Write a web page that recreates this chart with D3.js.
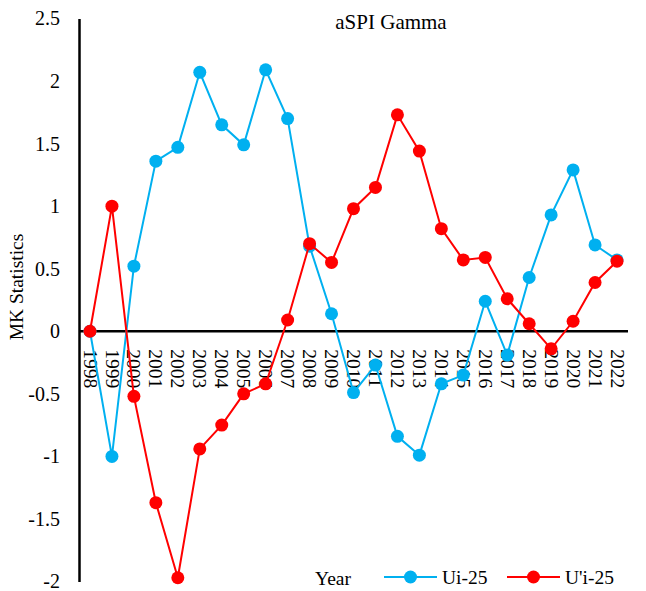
<!DOCTYPE html>
<html><head><meta charset="utf-8">
<script src="https://cdn.jsdelivr.net/npm/d3@7"></script>
<style>body{margin:0;background:#fff}svg{display:block}svg text{font-family:"Liberation Serif","Times New Roman",serif !important;fill:#000}</style>
</head><body><svg id="c" width="646" height="591"></svg>
<script>
const years = ["1998","1999","2000","2001","2002","2003","2004","2005","2006","2007","2008","2009","2010","2011","2012","2013","2014","2015","2016","2017","2018","2019","2020","2021","2022"];
const ui25 = [0,-1.00,0.52,1.36,1.47,2.07,1.65,1.49,2.09,1.70,0.68,0.14,-0.49,-0.27,-0.84,-0.99,-0.42,-0.35,0.24,-0.19,0.43,0.93,1.29,0.69,0.57];
const upi25 = [0,1.00,-0.52,-1.37,-1.97,-0.94,-0.75,-0.50,-0.42,0.09,0.70,0.55,0.98,1.15,1.73,1.44,0.82,0.57,0.59,0.26,0.06,-0.14,0.08,0.39,0.56];
const yTicks = [2.5,2,1.5,1,0.5,0,-0.5,-1,-1.5,-2];
const seriesNames = ["Ui-25","U'i-25"];
const colors = ["#00B0F0","#FF0000"];
const title = "aSPI Gamma", yTitle = "MK Statistics", xTitle = "Year";
const FONT = '"Liberation Serif","Times New Roman",serif';

const svg = d3.select("#c");
const x = d3.scaleBand().domain(years).range([79,628]);
const y = d3.scaleLinear().domain([-2,2.5]).range([581.5,18.5]);

// y axis
const ya = svg.append("g").attr("transform","translate(79,0)")
  .call(d3.axisLeft(y).tickValues(yTicks).tickSize(0).tickPadding(19).tickFormat(d=>String(d)));
ya.attr("font-family",FONT);
ya.select(".domain").attr("stroke","#000").attr("stroke-width",2.5);
ya.selectAll("text").style("font-size","20px").style("font-family",FONT).attr("fill","#000");

// zero line
svg.append("line").attr("x1",79).attr("x2",628).attr("y1",y(0)).attr("y2",y(0)).attr("stroke","#000").attr("stroke-width",2.5);

// x labels
svg.append("g").selectAll("text").data(years).join("text")
  .attr("transform",d=>`translate(${x(d)+x.bandwidth()/2},${y(0)+18}) rotate(90)`)
  .attr("dy","0.33em").style("font-size","19.5px").style("font-family",FONT).text(d=>d);

const line = d3.line().x((d,i)=>x(years[i])+x.bandwidth()/2).y(d=>y(d));
[ui25,upi25].forEach((s,k)=>{
  const g = svg.append("g");
  g.append("path").datum(s).attr("d",line).attr("fill","none").attr("stroke",colors[k]).attr("stroke-width",2);
  g.selectAll("circle").data(s).join("circle")
   .attr("cx",(d,i)=>x(years[i])+x.bandwidth()/2).attr("cy",d=>y(d)).attr("r",6.5).attr("fill",colors[k]);
});

// titles
svg.append("text").attr("x",391).attr("y",29).attr("text-anchor","middle").style("font-size","21px").style("font-family",FONT).text(title);
svg.append("text").attr("transform","translate(23,287) rotate(-90)").attr("text-anchor","middle").style("font-size","19.5px").style("font-family",FONT).text(yTitle);
svg.append("text").attr("x",315).attr("y",585).style("font-size","19.5px").style("font-family",FONT).text(xTitle);

// legend
const lx = [384,507];
seriesNames.forEach((n,k)=>{
  const g = svg.append("g");
  g.append("line").attr("x1",lx[k]).attr("x2",lx[k]+53).attr("y1",577).attr("y2",577).attr("stroke",colors[k]).attr("stroke-width",2);
  g.append("circle").attr("cx",lx[k]+26.5).attr("cy",577).attr("r",6.5).attr("fill",colors[k]);
  g.append("text").attr("x",lx[k]+58).attr("y",584).style("font-size","19.5px").style("font-family",FONT).text(n);
});
</script></body></html>
